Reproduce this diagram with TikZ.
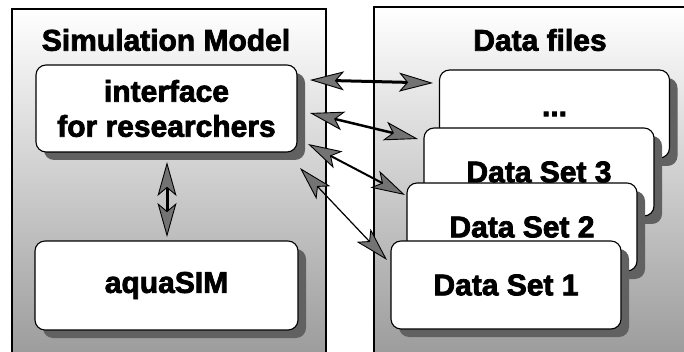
\documentclass[tikz,border=0pt]{standalone}
\usepackage{fontspec}
\setmainfont{Liberation Sans}[BoldFeatures={FakeBold=2.5}]
\usetikzlibrary{arrows.meta,shadows}
\begin{document}
\begin{tikzpicture}[x=1pt,y=-1pt,
  panel/.style={draw=black, line width=1.5pt, top color=white, bottom color=black!40},
  box/.style={draw=black, line width=1.1pt, fill=white, rounded corners=10pt,
    font=\fontsize{30}{35}\selectfont\bfseries, align=center, inner sep=0pt,
    drop shadow={shadow xshift=8pt, shadow yshift=-8pt, fill=black!62, opacity=1}},
  title/.style={font=\fontsize{30}{35}\selectfont\bfseries},
  >={Stealth[length=34pt,width=19pt,inset=8pt,fill=black!55,line width=0.9pt]},
  link/.style={<->, draw=black}
]
\useasboundingbox (0,0) rectangle (684,352);
\clip (0,0) rectangle (684,352);
\fill[white] (0,0) rectangle (684,352);

% panels
\path[panel] (12,9) rectangle (326,365);
\path[panel] (374,7) rectangle (700,365);

\node[title] (t1) at (166,40) {Simulation Model};
\node[title] (t2) at (540,40) {Data files};

% left boxes
\node[box, minimum width=261pt, minimum height=87pt] (iface) at (166.5,108.5) {interface\\for researchers};
\node[box, minimum width=263pt, minimum height=89pt] (aqua) at (166.5,285.5) {aquaSIM};

% data boxes
\node[box, minimum width=230pt, minimum height=88pt] (dots) at (554.5,114) {...};
\node[box, minimum width=230pt, minimum height=88pt] (ds3) at (539,172) {Data Set 3};
\node[box, minimum width=230pt, minimum height=88pt] (ds2) at (522,227) {Data Set 2};
\node[box, minimum width=230pt, minimum height=88pt] (ds1) at (506,285) {Data Set 1};

% connector ends
\coordinate (v1) at (167,162);
\coordinate (v2) at (167,237);
\coordinate (a1s) at (310,80);
\coordinate (a1e) at (433,83);
\coordinate (a2s) at (310,113);
\coordinate (a2e) at (418,139);
\coordinate (a3s) at (308,144);
\coordinate (a3e) at (405,195);
\coordinate (a4s) at (300,168);
\coordinate (a4e) at (387,260);

\draw[link, line width=3pt] (v1) -- (v2);
\draw[link, line width=3pt] (a1s) -- (a1e);
\draw[link, line width=2.5pt] (a2s) -- (a2e);
\draw[link, line width=2pt] (a3s) -- (a3e);
\draw[link, line width=1.2pt] (a4s) -- (a4e);
\end{tikzpicture}
\end{document}
